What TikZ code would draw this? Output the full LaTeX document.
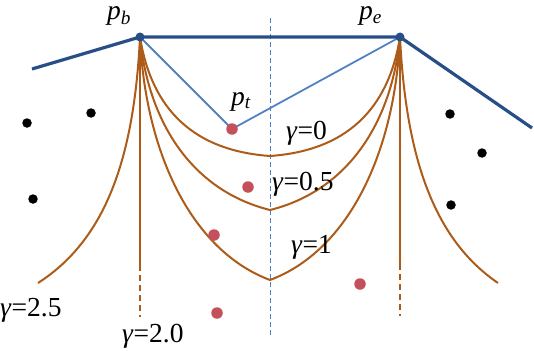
\documentclass[tikz,border=0pt]{standalone}
\usepackage{fontspec}
\setmainfont{Liberation Serif}
\newfontfamily\labfont{Liberation Serif}
\definecolor{navy}{RGB}{40,78,135}
\definecolor{lightblue}{RGB}{80,130,195}
\definecolor{brownc}{RGB}{172,92,24}
\definecolor{redc}{RGB}{195,80,90}
\begin{document}
\begin{tikzpicture}[x=1pt,y=-1pt,
  thickblue/.style={draw=navy,line width=3.2pt},
  thinblue/.style={draw=lightblue,line width=1.8pt},
  curve/.style={draw=brownc,line width=2pt},
  curvedash/.style={draw=brownc,line width=2pt,dash pattern=on 6pt off 4pt},
  axis/.style={draw=lightblue,line width=1pt,dash pattern=on 5pt off 3pt},
  blackdot/.style={circle,fill=black,inner sep=0pt,minimum size=9.5pt},
  reddot/.style={circle,fill=redc,inner sep=0pt,minimum size=11.5pt},
  enddot/.style={circle,fill=navy,inner sep=0pt,minimum size=9pt},
  lab/.style={font=\labfont\fontsize{27.5}{27.5}\selectfont,anchor=base west,inner sep=0pt},
  plab/.style={lab,text height=13pt}]
\useasboundingbox (0,0) rectangle (534,350);
% key points
\coordinate (pb) at (140,37);
\coordinate (pe) at (400,37);
\coordinate (pt) at (232,129);
\coordinate (l0) at (32,69);
\coordinate (r0) at (532,128);
\coordinate (vt) at (270,18);
\coordinate (vb) at (270,335);
\coordinate (b0) at (270,156);
\coordinate (b05) at (270,210);
\coordinate (b1) at (270,280);
\coordinate (e25l) at (38,283);
\coordinate (e25r) at (498,283);
\coordinate (s2l) at (140,265);
\coordinate (e2l) at (140,317);
\coordinate (s2r) at (400,264);
\coordinate (e2r) at (400,316);
% symmetry axis
\draw[axis] (vt) -- (vb);
% curves
\draw[curve] (pb) .. controls (150,100) and (185,150) .. (b0)
  .. controls (355,150) and (390,100) .. (pe);
\draw[curve] (pb) .. controls (148,120) and (190,190) .. (b05)
  .. controls (350,190) and (392,120) .. (pe);
\draw[curve] (pb) .. controls (145,150) and (190,250) .. (b1)
  .. controls (350,250) and (395,150) .. (pe);
\draw[curve] (pb) .. controls (134,160) and (105,240) .. (e25l);
\draw[curve] (pe) .. controls (406,160) and (435,240) .. (e25r);
\draw[curve] (pb) -- (s2l);
\draw[curvedash] (s2l) -- (e2l);
\draw[curve] (pe) -- (s2r);
\draw[curvedash] (s2r) -- (e2r);
% blue path
\draw[thinblue] (pb) -- (pt) -- (pe);
\draw[thickblue,line join=round] (l0) -- (pb) -- (pe) -- (r0);
% dots
\node[enddot] (pbdot) at (pb) {};
\node[enddot] (pedot) at (pe) {};
\node[reddot] (ptdot) at (pt) {};
\node[reddot] (r1) at (248,187) {};
\node[reddot] (r2) at (214,235) {};
\node[reddot] (r3) at (217,313) {};
\node[reddot] (r4) at (360,284) {};
\node[blackdot] (k1) at (27,123) {};
\node[blackdot] (k2) at (91,113) {};
\node[blackdot] (k3) at (33,199) {};
\node[blackdot] (k4) at (450,114) {};
\node[blackdot] (k5) at (482,153) {};
\node[blackdot] (k6) at (451,205) {};
% labels
\node[plab] (tpb) at (107,20) {\textit{p}\textsubscript{\textit{b}}};
\node[plab] (tpe) at (359,20) {\textit{p}\textsubscript{\textit{e}}};
\node[plab] (tpt) at (231,105) {\textit{p}\textsubscript{\textit{t}}};
\node[lab] (g0) at (286,139) {\textit{γ}=0};
\node[lab] (g05) at (272,190) {\textit{γ}=0.5};
\node[lab] (g1) at (291,253) {\textit{γ}=1};
\node[lab] (g25) at (0,316) {\textit{γ}=2.5};
\node[lab] (g20) at (122,342) {\textit{γ}=2.0};
\end{tikzpicture}
\end{document}
